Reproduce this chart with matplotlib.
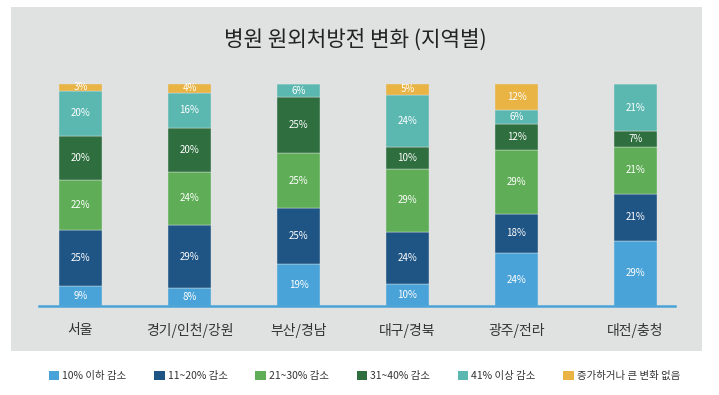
import numpy as np
import matplotlib.pyplot as plt
from matplotlib.patches import Rectangle, Patch

plt.rcParams['font.family'] = ['Noto Sans CJK KR', 'DejaVu Sans']

# regions and share of each change band (%)
regions = ['서울', '경기/인천/강원', '부산/경남', '대구/경북', '광주/전라', '대전/충청']
bands = ['10% 이하 감소', '11~20% 감소', '21~30% 감소', '31~40% 감소', '41% 이상 감소', '증가하거나 큰 변화 없음']
below_10 = [9, 8, 19, 10, 24, 29]
from_11_20 = [25, 29, 25, 24, 18, 21]
from_21_30 = [22, 24, 25, 29, 29, 21]
from_31_40 = [20, 20, 25, 10, 12, 7]
over_41 = [20, 16, 6, 24, 6, 21]
no_drop = [3, 4, 0, 5, 12, 0]

colors = ['#4aa3d8', '#1f5585', '#5fad56', '#2e6e3f', '#5bb8b1', '#e9b444']
panel = '#dfe2e1'

series = np.array([below_10, from_11_20, from_21_30, from_31_40, over_41, no_drop], dtype=float)
# bars in the picture are all full height, so scale each column to 100
shares = series / series.sum(axis=0) * 100

fig = plt.figure(figsize=(7.19, 3.95), dpi=100)
fig.patch.set_facecolor('white')
# grey panel behind chart
fig.patches.append(Rectangle((11 / 719, 44 / 395), 691 / 719, 344 / 395,
                             transform=fig.transFigure, facecolor=panel,
                             edgecolor='none', zorder=-1))

ax = fig.add_axes([39 / 719, 89 / 395, 636 / 719, 222 / 395])
ax.set_facecolor('none')

x = np.array([0, 1, 2, 3, 4, 5.09])
bottom = np.zeros(len(regions))
for i in range(len(bands)):
    ax.bar(x, shares[i], 0.395, bottom=bottom, color=colors[i], label=bands[i],
           edgecolor=panel, linewidth=0.3, zorder=2)
    for xi, b, h, v in zip(x, bottom, shares[i], series[i]):
        if v > 0:
            ax.text(xi, b + h / 2, f'{int(v)}%', ha='center', va='center',
                    color='white', fontsize=7, zorder=3)
    bottom += shares[i]

ax.set_xlim(-0.381, 5.454)
ax.set_ylim(0, 100)
for s in ['top', 'right', 'left']:
    ax.spines[s].set_visible(False)
ax.spines['bottom'].set_color('#4aa3d8')
ax.spines['bottom'].set_linewidth(1.8)
ax.spines['bottom'].set_zorder(4)
ax.set_yticks([])
ax.set_xticks(x)
ax.set_xticklabels(regions, fontsize=10, color='#333333')
ax.tick_params(axis='x', length=0, pad=12)

fig.text(0.494, 0.899, '병원 원외처방전 변화 (지역별)', ha='center', va='center',
         fontsize=15.3, color='#222222')

handles = [Patch(facecolor=c, edgecolor='none') for c in colors]
fig.legend(handles, bands, loc='center', bbox_to_anchor=(0.507, 0.048), ncol=6,
           frameon=False, fontsize=7.5, handlelength=1.0, handleheight=1.0,
           handletextpad=0.3, columnspacing=2.65, labelcolor='#333333')

fig.savefig('out.png', dpi=100, facecolor='white')
